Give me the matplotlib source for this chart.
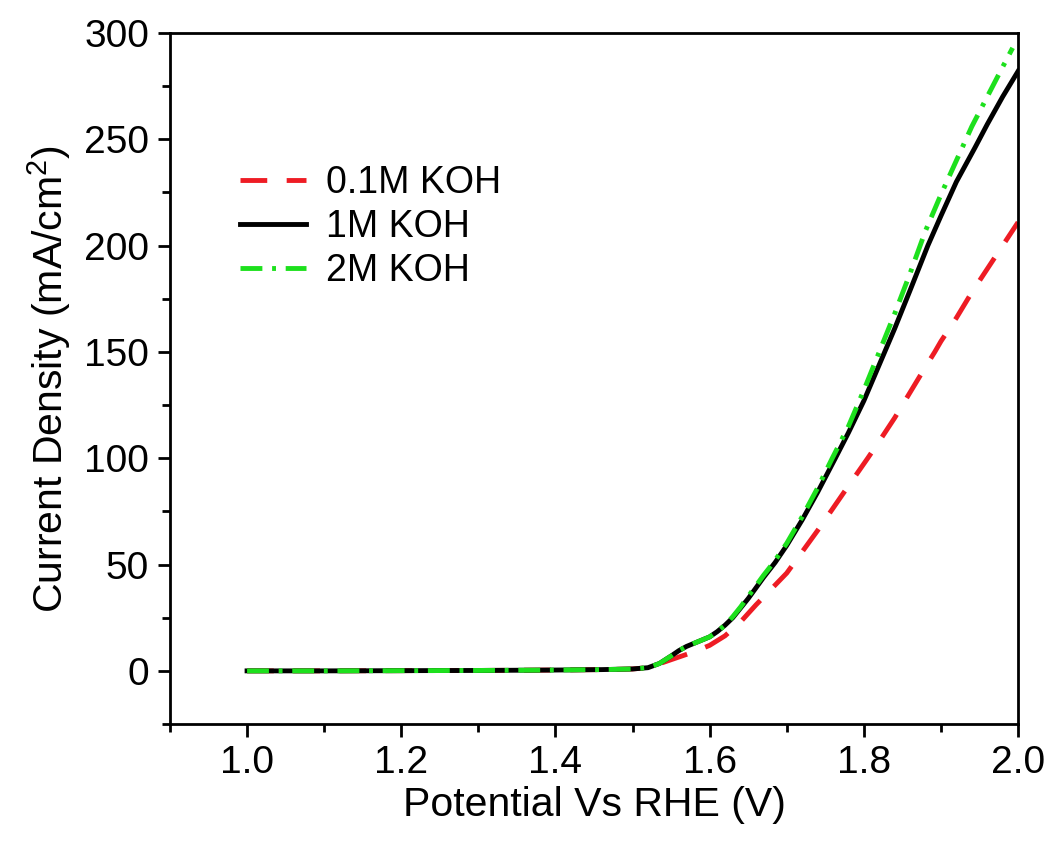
import numpy as np
import matplotlib
matplotlib.use("Agg")
import matplotlib.pyplot as plt
from matplotlib.ticker import MultipleLocator

plt.rcParams["font.family"] = ["Liberation Sans", "DejaVu Sans"]
plt.rcParams["mathtext.fontset"] = "custom"
plt.rcParams["mathtext.rm"] = "Liberation Sans"
plt.rcParams["mathtext.it"] = "Liberation Sans"

# Potential (V) und Stromdichte (mA/cm^2)
# 0.1M KOH
pot_01 = [1.00, 1.10, 1.20, 1.30, 1.40, 1.46, 1.50, 1.52, 1.54, 1.56, 1.58, 1.60, 1.62,
          1.64, 1.66, 1.68, 1.70, 1.708, 1.72, 1.74, 1.76, 1.78, 1.805, 1.82, 1.84,
          1.86, 1.88, 1.892, 1.90, 1.92, 1.94, 1.96, 1.98, 2.00]
j_01 = [0.0, 0.0, 0.1, 0.2, 0.4, 0.6, 0.9, 1.5, 4.0, 6.5, 9.0, 12.0, 16.5,
        23.0, 31.0, 38.5, 46.0, 50.0, 56.0, 66.0, 76.5, 87.0, 100.0, 108.0, 119.0,
        131.0, 143.0, 150.0, 155.0, 166.0, 178.0, 189.0, 200.0, 211.0]

# 1M KOH
pot_1 = [1.00, 1.10, 1.20, 1.30, 1.40, 1.46, 1.50, 1.52, 1.535, 1.55, 1.56, 1.57, 1.58,
         1.59, 1.60, 1.61, 1.62, 1.63, 1.64, 1.65, 1.66, 1.67, 1.685, 1.70, 1.72, 1.74,
         1.763, 1.78, 1.80, 1.82, 1.84, 1.86, 1.883, 1.90, 1.92, 1.944, 1.96, 1.98, 2.00]
j_1 = [0.0, 0.0, 0.1, 0.2, 0.4, 0.6, 0.9, 1.5, 3.5, 7.0, 9.5, 11.5, 13.0,
       14.5, 16.0, 18.5, 21.5, 25.0, 29.5, 34.0, 39.0, 44.0, 51.0, 59.0, 71.0, 84.0,
       100.0, 112.0, 127.0, 144.0, 161.0, 179.0, 200.0, 214.0, 230.0, 246.0, 257.0, 270.0, 282.0]

# 2M KOH
pot_2 = [1.00, 1.10, 1.20, 1.30, 1.40, 1.46, 1.50, 1.52, 1.535, 1.55, 1.56, 1.57, 1.58,
         1.59, 1.60, 1.61, 1.62, 1.63, 1.64, 1.65, 1.66, 1.67, 1.683, 1.70, 1.72, 1.74,
         1.759, 1.78, 1.80, 1.82, 1.84, 1.86, 1.88, 1.90, 1.92, 1.94, 1.96, 1.98, 1.993]
j_2 = [0.0, 0.0, 0.1, 0.2, 0.4, 0.6, 0.9, 1.5, 3.5, 7.0, 9.5, 11.5, 13.0,
       14.5, 16.0, 18.5, 21.5, 25.5, 30.0, 35.0, 40.0, 45.0, 51.0, 60.0, 72.5, 86.0,
       100.0, 115.0, 132.0, 150.0, 168.0, 187.0, 207.0, 224.0, 240.0, 256.0, 270.0, 284.0, 293.0]

fig = plt.figure(figsize=(10.53, 8.42), dpi=100)
ax = fig.add_axes([0.1614, 0.1401, 0.8054, 0.8207])

ax.plot(pot_01, j_01, color="#ee1c24", lw=3.5, dashes=(5.5, 4), label="0.1M KOH")
ax.plot(pot_1, j_1, color="black", lw=3.5, label="1M KOH")
ax.plot(pot_2, j_2, color="#1de01d", lw=3.5, dashes=(4.5, 2, 0.8, 2), label="2M KOH")

ax.set_xlim(0.9, 2.0)
ax.set_ylim(-25, 300)
ax.xaxis.set_minor_locator(MultipleLocator(0.1))
ax.yaxis.set_major_locator(MultipleLocator(50))
ax.yaxis.set_minor_locator(MultipleLocator(25))
ax.set_xticks([1.0, 1.2, 1.4, 1.6, 1.8, 2.0])
ax.set_xticklabels(["1.0", "1.2", "1.4", "1.6", "1.8", "2.0"])

ax.tick_params(which="both", direction="out", width=2, labelsize=28, top=False, right=False)
ax.tick_params(which="major", length=9, pad=6)
ax.tick_params(which="minor", length=6)
for s in ax.spines.values():
    s.set_linewidth(2)

ax.set_xlabel("Potential Vs RHE (V)", fontsize=29.5, labelpad=4)
ax.set_ylabel("Current Density (mA/cm$^2$)", fontsize=29.5, labelpad=8)

ax.legend(loc="upper left", bbox_to_anchor=(0.065, 0.83), frameon=False, fontsize=27,
          handlelength=1.75, handletextpad=0.55, labelspacing=0.21, borderaxespad=0)

fig.savefig("out.png", dpi=100)
